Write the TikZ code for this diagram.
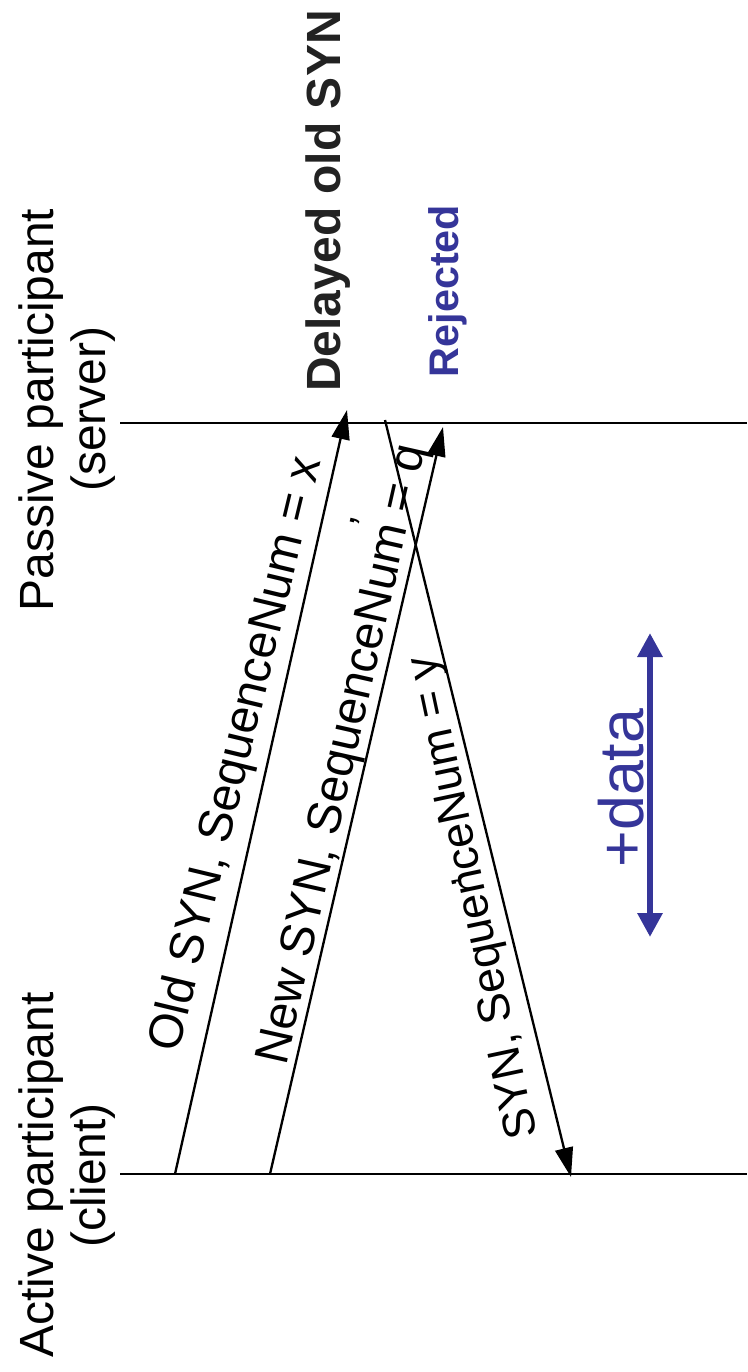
\documentclass[tikz,border=0pt]{standalone}
\usepackage{fontspec}
\setmainfont{Liberation Sans}
\usetikzlibrary{arrows.meta,calc}
\definecolor{synblue}{RGB}{53,53,153}
\definecolor{inkgray}{RGB}{34,34,34}
\begin{document}
\begin{tikzpicture}[x=0.75pt,y=-0.75pt,
  timeline/.style={line width=2.2pt},
  msg/.style={line width=1.75pt,-{Triangle[length=22pt,width=13.5pt]}},
  msglabel/.style={font=\fontsize{36}{40}\selectfont,inner sep=0pt,anchor=base},
  party/.style={font=\fontsize{36}{40}\selectfont,inner sep=0pt,anchor=base,rotate=90},
  stray/.style={font=\fontsize{30}{34}\selectfont,inner sep=0pt,anchor=base},
  dataarrow/.style={draw=synblue,line width=4.5pt,
    {Triangle[length=18pt,width=18pt]}-{Triangle[length=18pt,width=18pt]}},
]
\path[use as bounding box] (0,0) rectangle (747,1372);

% time lines of the two hosts
\coordinate (srvL) at (120,423);
\coordinate (srvR) at (747,423);
\coordinate (cliL) at (120,1174);
\coordinate (cliR) at (747,1174);
\draw[timeline] (srvL) -- (srvR);
\draw[timeline] (cliL) -- (cliR);

% participants
\node[party] (srvname) at (53,410) {Passive participant};
\node[party] (srvrole) at (105,409) {(server)};
\node[party] (cliname) at (53,1175) {Active participant};
\node[party] (clirole) at (105,1175) {(client)};

% headings
\node[font=\bfseries\fontsize{36}{40}\selectfont,text=inkgray,inner sep=0pt,anchor=base,rotate=90]
  (delayed) at (340,201) {Delayed old SYN};
\node[font=\bfseries\fontsize{31}{34}\selectfont,text=synblue,inner sep=0pt,anchor=base,rotate=90]
  (rejected) at (458,291) {Rejected};

% segments
\coordinate (oldS) at (175,1174);
\coordinate (oldE) at (347,410);
\coordinate (newS) at (270,1174);
\coordinate (newE) at (443,427);
\coordinate (synS) at (385,420);
\coordinate (synE) at (571,1177);
\draw[msg] (oldS) -- (oldE);
\draw[msg] (newS) -- (newE);
\draw[msg] (synS) -- (synE);

\node[msglabel,rotate=76.5] (oldlbl) at (250,757) {Old SYN, SequenceNum = x};
\node[msglabel,rotate=77.3] (newlbl) at (356,757) {New SYN, SequenceNum = q};
\node[msglabel,font=\fontsize{34}{38}\selectfont,rotate=102] (synlbl) at (486,895) {SYN, SequenceNum = y};
\node[stray,rotate=77] (comma1) at (355,521) {,};
\node[stray,rotate=102] (comma2) at (456,882) {,};

% data exchange
\coordinate (dataT) at (650,633);
\coordinate (dataB) at (650,937);
\draw[dataarrow] (dataT) -- (dataB);
\node[font=\fontsize{47}{50}\selectfont,text=synblue,inner sep=0pt,anchor=base,rotate=90]
  (datalbl) at (643,788) {+data};
\end{tikzpicture}
\end{document}
